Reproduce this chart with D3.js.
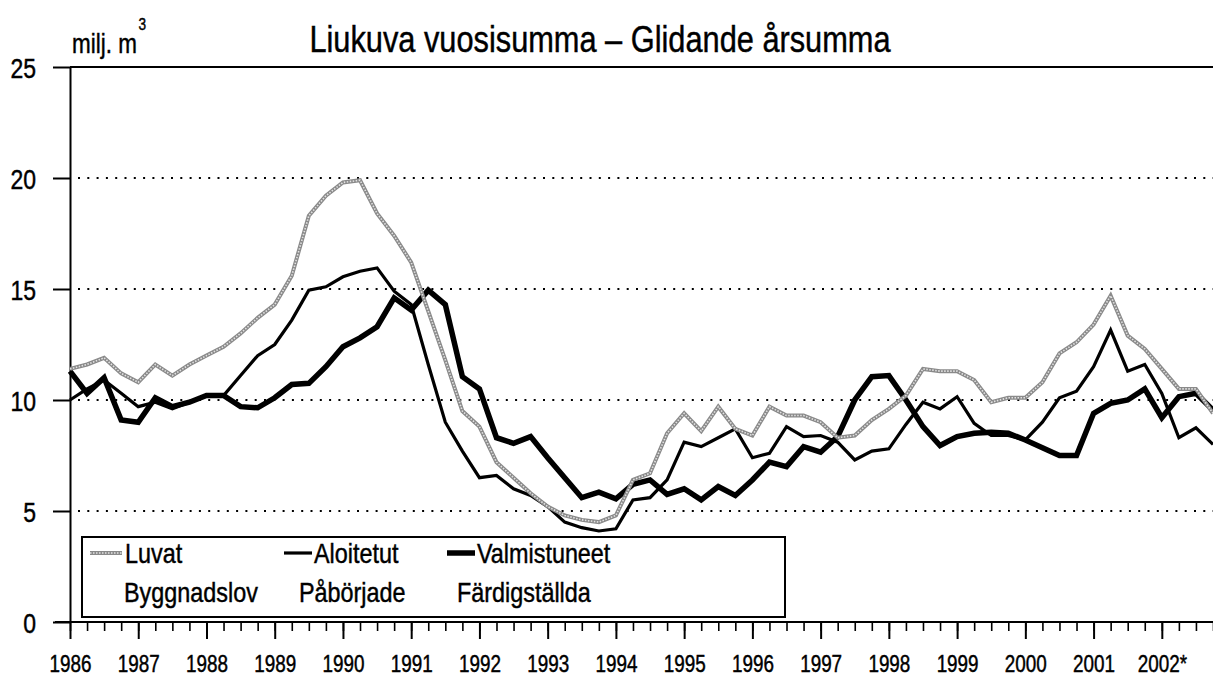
<!DOCTYPE html>
<html>
<head>
<meta charset="utf-8">
<script src="https://cdn.jsdelivr.net/npm/d3@7"></script>
<style>
body { margin: 0; background: #fff; }
text { font-family: 'Liberation Sans', Arial, sans-serif; fill: #000; stroke: #000; stroke-width: 0.45px; }
</style>
</head>
<body>
<svg width="1213" height="676"></svg>
<script>
// quarterly moving annual sums, million m3, 1986 Q1 .. 2002 Q4 (partly cut)
const yearLabels = ['1986', '1987', '1988', '1989', '1990', '1991', '1992', '1993', '1994',
    '1995', '1996', '1997', '1998', '1999', '2000', '2001', '2002*'];
const yTicks = [0, 5, 10, 15, 20, 25];

const luvat = [11.4, 11.6, 11.9, 11.2, 10.8, 11.6, 11.1, 11.6, 12.0, 12.4, 13.0, 13.7,
    14.3, 15.6, 18.3, 19.2, 19.8, 19.9, 18.4, 17.4, 16.2, 14.0, 11.8, 9.5,
    8.8, 7.2, 6.5, 5.8, 5.2, 4.8, 4.6, 4.5, 4.8, 6.4, 6.7, 8.5,
    9.4, 8.6, 9.7, 8.7, 8.4, 9.7, 9.3, 9.3, 9.0, 8.3, 8.4, 9.1,
    9.6, 10.2, 11.4, 11.3, 11.3, 10.9, 9.9, 10.1, 10.1, 10.8, 12.1, 12.6,
    13.4, 14.7, 12.9, 12.3, 11.4, 10.5, 10.5, 9.4];

const aloitetut = [10.0, 10.5, 10.9, 10.3, 9.7, 9.9, 9.6, 9.9, 10.2, 10.2, 11.1, 12.0,
    12.5, 13.6, 14.95, 15.1, 15.55, 15.8, 15.95, 14.9, 14.3, 11.6, 9.0, 7.7,
    6.5, 6.6, 6.0, 5.7, 5.2, 4.5, 4.25, 4.1, 4.2, 5.5, 5.6, 6.4,
    8.1, 7.9, 8.3, 8.7, 7.4, 7.6, 8.8, 8.35, 8.4, 8.1, 7.3, 7.7,
    7.8, 8.9, 9.9, 9.6, 10.15, 8.95, 8.4, 8.4, 8.2, 9.0, 10.1, 10.4,
    11.5, 13.15, 11.3, 11.6, 10.3, 8.3, 8.75, 8.0];

const valmistuneet = [11.3, 10.3, 11.0, 9.1, 9.0, 10.1, 9.7, 9.9, 10.2, 10.2, 9.7, 9.65,
    10.1, 10.7, 10.75, 11.5, 12.4, 12.8, 13.3, 14.6, 14.05, 14.95, 14.3, 11.05,
    10.5, 8.3, 8.05, 8.35, 7.4, 6.5, 5.6, 5.85, 5.55, 6.2, 6.4, 5.75,
    6.0, 5.5, 6.1, 5.7, 6.4, 7.2, 7.0, 7.9, 7.65, 8.35, 10.0, 11.05,
    11.1, 10.0, 8.8, 7.95, 8.35, 8.5, 8.55, 8.5, 8.2, 7.85, 7.5, 7.5,
    9.4, 9.85, 10.0, 10.5, 9.2, 10.15, 10.3, 9.55];

const svg = d3.select('svg');

const x = d3.scaleLinear().domain([0, luvat.length - 1]).range([70, 1213]);
const y = d3.scaleLinear().domain([0, 25]).range([622, 67]);

// squeeze Liberation Sans into a condensed look
function narrow(sel) {
    sel.each(function () {
        const w = this.getComputedTextLength();
        d3.select(this).attr('textLength', w * 0.82).attr('lengthAdjust', 'spacingAndGlyphs');
    });
}

// dotted gridlines
svg.append('g').selectAll('line')
    .data(yTicks.filter(d => d > 0 && d < 25))
    .join('line')
    .attr('x1', x(0) + 8).attr('x2', 1213)
    .attr('y1', d => y(d)).attr('y2', d => y(d))
    .attr('stroke', '#000').attr('stroke-width', 2)
    .attr('stroke-dasharray', '2,7.3');

// top frame line
svg.append('line')
    .attr('x1', x(0)).attr('x2', 1213)
    .attr('y1', y(25)).attr('y2', y(25))
    .attr('stroke', '#000').attr('stroke-width', 2);

// y axis
const yAxis = svg.append('g')
    .attr('transform', `translate(${x(0)},0)`)
    .call(d3.axisLeft(y).tickValues(yTicks).tickSize(17).tickSizeOuter(0).tickPadding(17));
yAxis.select('.domain').attr('stroke-width', 2);
yAxis.selectAll('.tick line').attr('stroke-width', 2);
yAxis.selectAll('.tick text').attr('font-size', 28).attr('dy', '0.36em').call(narrow);

// x axis, minor quarter ticks then major year ticks
const minor = svg.append('g')
    .attr('transform', `translate(0,${y(0)})`)
    .call(d3.axisBottom(x).tickValues(d3.range(0, luvat.length)).tickSize(9).tickSizeOuter(0).tickFormat(''));
minor.select('.domain').remove();
minor.selectAll('.tick line').attr('stroke-width', 1.6);

const xAxis = svg.append('g')
    .attr('transform', `translate(0,${y(0)})`)
    .call(d3.axisBottom(x)
        .tickValues(yearLabels.map((d, i) => i * 4))
        .tickSize(17).tickSizeOuter(0).tickPadding(17)
        .tickFormat((d, i) => yearLabels[i]));
xAxis.select('.domain').attr('stroke-width', 2).attr('d', 'M55,0H1213');
xAxis.selectAll('.tick line').attr('stroke-width', 2);
xAxis.selectAll('.tick text').attr('font-size', 23).call(narrow);

// lines
const line = d3.line().x((d, i) => x(i)).y(d => y(d));

svg.append('path').datum(aloitetut)
    .attr('d', line).attr('fill', 'none')
    .attr('stroke', '#000').attr('stroke-width', 3.2).attr('stroke-linejoin', 'miter');

svg.append('path').datum(valmistuneet)
    .attr('d', line).attr('fill', 'none')
    .attr('stroke', '#000').attr('stroke-width', 5.5).attr('stroke-linejoin', 'miter');

svg.append('path').datum(luvat)
    .attr('d', line).attr('fill', 'none')
    .attr('stroke', '#8a8a8a').attr('stroke-width', 4);
svg.append('path').datum(luvat)
    .attr('d', line).attr('fill', 'none')
    .attr('stroke', '#e2e2e2').attr('stroke-width', 1.6).attr('stroke-dasharray', '1.5,1.5');

// legend
const legend = svg.append('g');
legend.append('rect')
    .attr('x', 82).attr('y', 537).attr('width', 703).attr('height', 80)
    .attr('fill', '#fff').attr('stroke', '#000').attr('stroke-width', 2);

const legendItems = [
    { fi: 'Luvat', sv: 'Byggnadslov', x: 90, sx: 124 },
    { fi: 'Aloitetut', sv: 'Påbörjade', x: 284, sx: 299 },
    { fi: 'Valmistuneet', sv: 'Färdigställda', x: 447, sx: 457 }
];
legendItems.forEach((d, i) => {
    if (i === 0) {
        legend.append('line').attr('x1', d.x).attr('x2', d.x + 32).attr('y1', 553).attr('y2', 553)
            .attr('stroke', '#8a8a8a').attr('stroke-width', 4);
        legend.append('line').attr('x1', d.x).attr('x2', d.x + 32).attr('y1', 553).attr('y2', 553)
            .attr('stroke', '#e2e2e2').attr('stroke-width', 1.6).attr('stroke-dasharray', '1.5,1.5');
    } else {
        legend.append('line').attr('x1', d.x).attr('x2', d.x + 28).attr('y1', 553).attr('y2', 553)
            .attr('stroke', '#000').attr('stroke-width', i === 1 ? 3.2 : 5.5);
    }
    legend.append('text').attr('x', d.x + (i === 0 ? 35 : 30)).attr('y', 563).attr('font-size', 28.5).text(d.fi).call(narrow);
    legend.append('text').attr('x', d.sx).attr('y', 602).attr('font-size', 28.5).text(d.sv).call(narrow);
});

// titles
svg.append('text').attr('x', 600).attr('y', 52).attr('text-anchor', 'middle')
    .attr('font-size', 37.5).text('Liukuva vuosisumma – Glidande årsumma').call(narrow);
const unit = svg.append('text').attr('x', 72).attr('y', 53).attr('font-size', 28);
unit.append('tspan').text('milj. m');
unit.append('tspan').attr('dx', 2).attr('dy', -23).attr('font-size', 17).text('3');
unit.call(narrow);
</script>
</body>
</html>
